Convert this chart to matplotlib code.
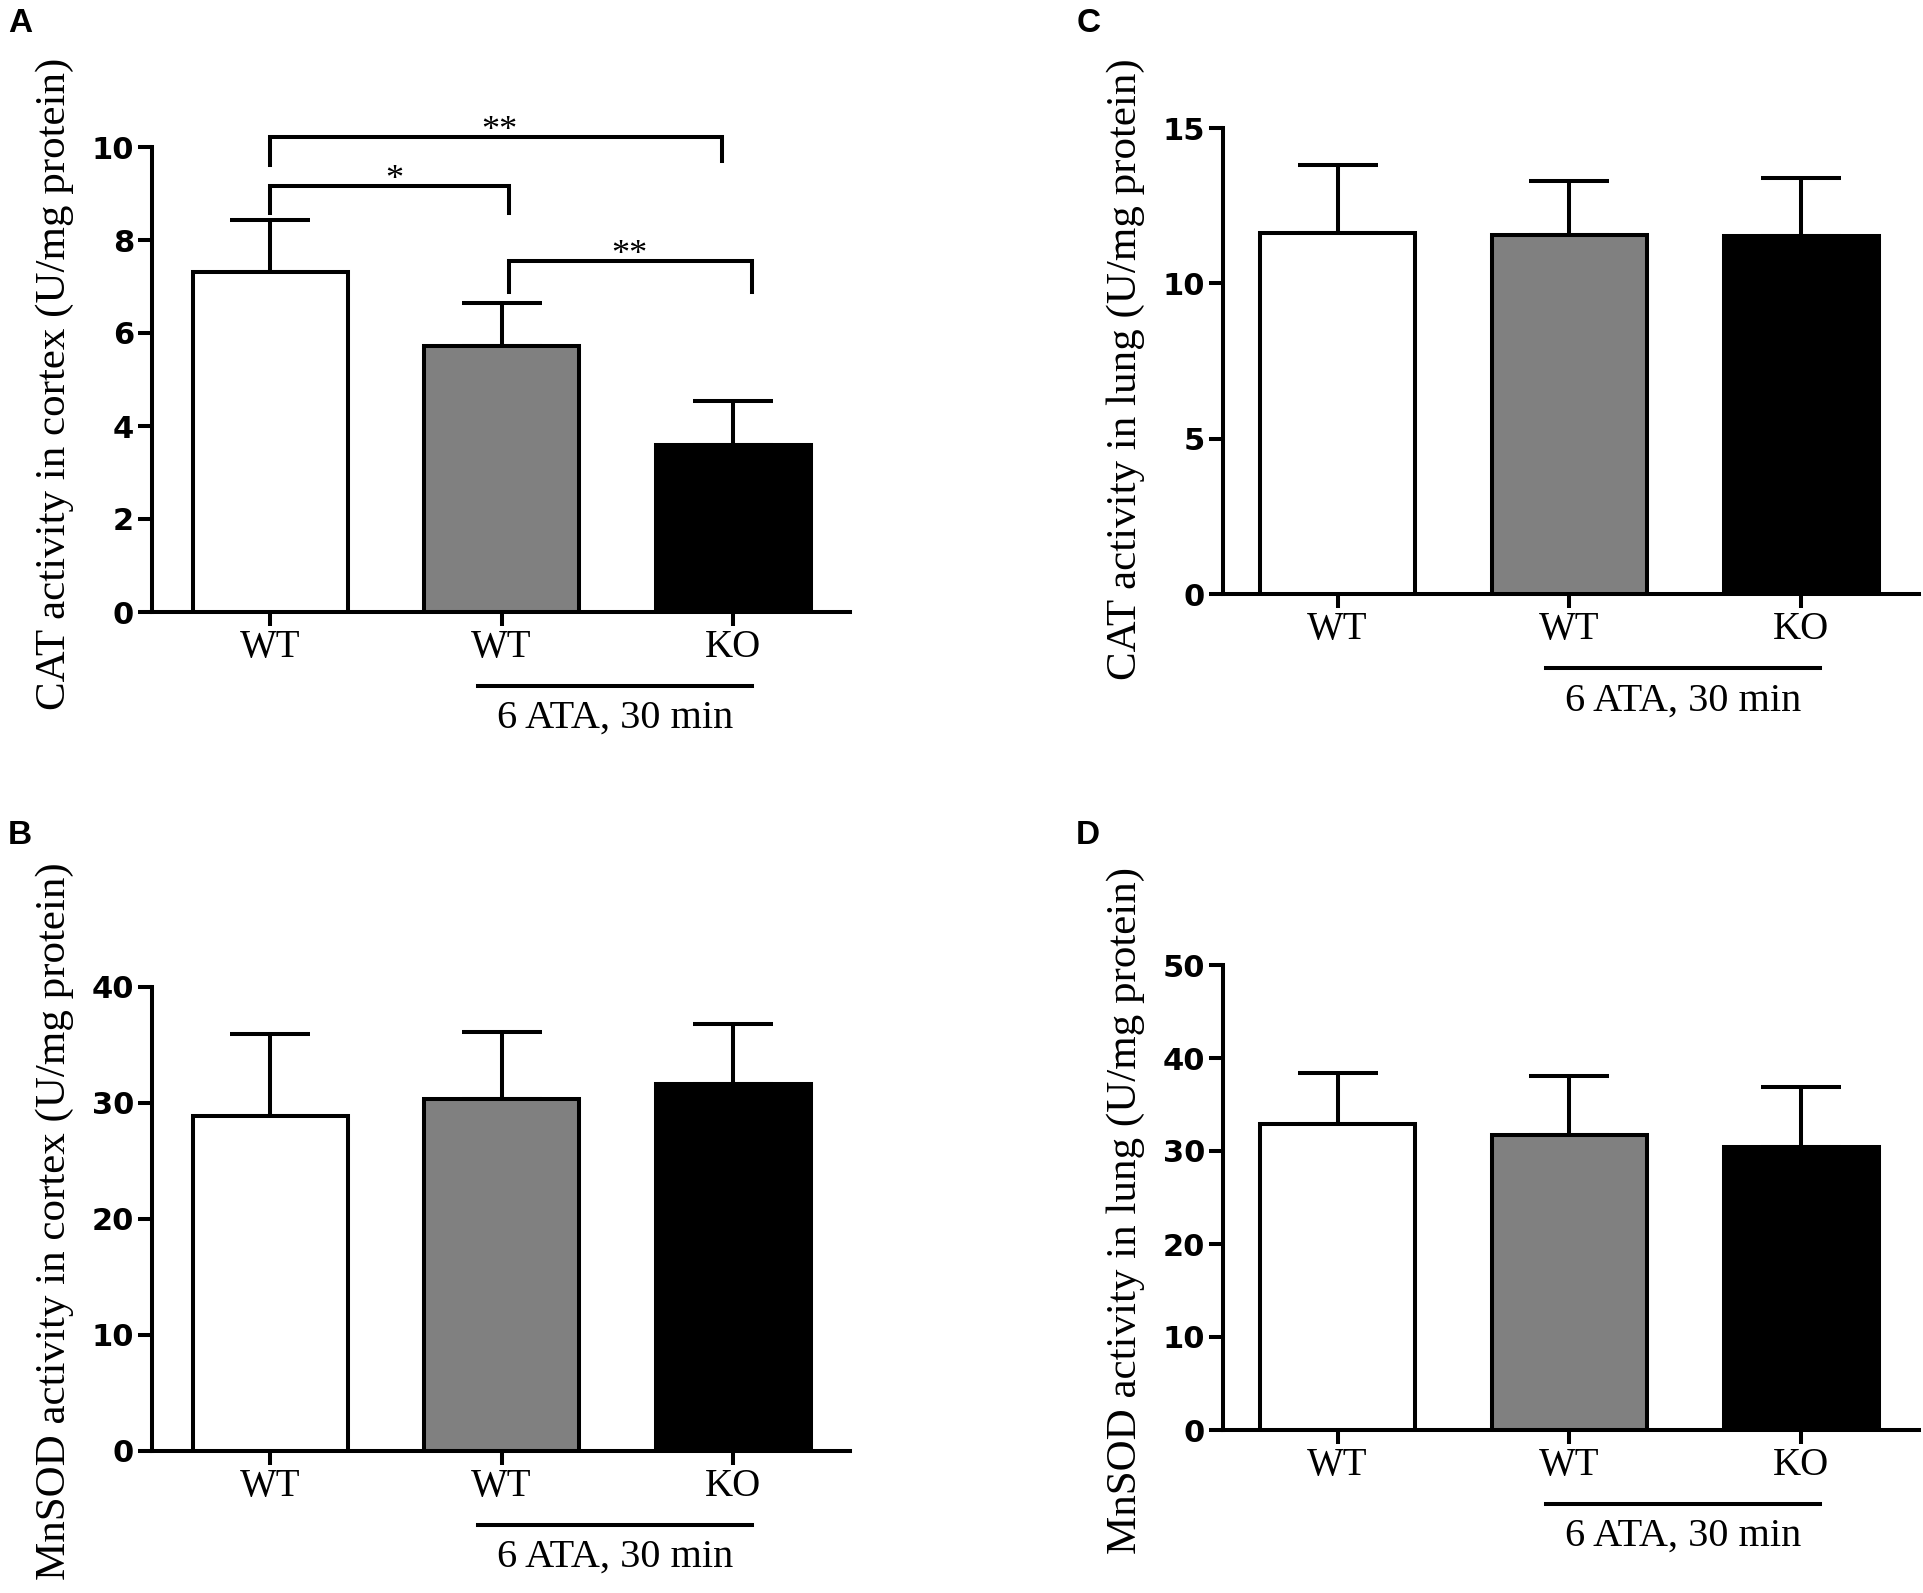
import matplotlib
matplotlib.use("Agg")
import matplotlib.pyplot as plt

W, H = 1924, 1593
fig = plt.figure(figsize=(W / 100, H / 100), dpi=100)

groups = ["WT", "WT", "KO"]
colors = ["white", "#808080", "black"]

cat_cortex = [7.31, 5.73, 3.60]
cat_cortex_err = [1.12, 0.91, 0.94]
mnsod_cortex = [28.87, 30.36, 31.68]
mnsod_cortex_err = [7.10, 5.78, 5.17]
cat_lung = [11.63, 11.55, 11.52]
cat_lung_err = [2.18, 1.75, 1.88]
mnsod_lung = [32.93, 31.67, 30.47]
mnsod_lung_err = [5.50, 6.40, 6.40]

yticks_A = [0, 2, 4, 6, 8, 10]
yticks_B = [0, 10, 20, 30, 40]
yticks_C = [0, 5, 10, 15]
yticks_D = [0, 10, 20, 30, 40, 50]

ylabel_A = "CAT activity in cortex (U/mg protein)"
ylabel_B = "MnSOD activity in cortex (U/mg protein)"
ylabel_C = "CAT activity in lung (U/mg protein)"
ylabel_D = "MnSOD activity in lung (U/mg protein)"
group_text = "6 ATA, 30 min"

# significance brackets for panel A: (x1, x2, y, leg_end_left, leg_end_right, label, label_x)
brackets_A = [
    (0.0, 1.95, 10.22, 9.62, 9.69, "**", 0.99),
    (0.0, 1.03, 9.16, 8.59, 8.59, "*", 0.535),
    (1.03, 2.08, 7.54, 6.88, 6.88, "**", 1.55),
]

SERIF = "Liberation Serif"
LW = 2.9


def px_axes(l, r, t, b):
    return fig.add_axes([l / W, 1 - b / H, (r - l) / W, (b - t) / H])


def draw_panel(ax, vals, errs, yticks, xlim, ylabel, lab_x, lab_top, letter, let_x, let_top):
    x = list(range(len(vals)))
    ax.bar(x, vals, width=0.67, color=colors, edgecolor="black", linewidth=LW, zorder=3)
    ax.errorbar(x, vals, yerr=[[0] * len(vals), errs], fmt="none", ecolor="black",
                elinewidth=LW, capsize=29, capthick=LW, zorder=2)
    ax.set_xlim(*xlim)
    ax.set_ylim(0, yticks[-1])
    ax.set_yticks(yticks)
    ax.set_xticks(x)
    ax.set_xticklabels(groups, fontfamily=SERIF, fontsize=28)
    for lab in ax.get_yticklabels():
        lab.set_fontfamily("DejaVu Sans")
        lab.set_fontweight("bold")
        lab.set_fontsize(22)
    ax.tick_params(axis="y", length=10, width=LW, pad=3)
    ax.tick_params(axis="x", length=10, width=LW, pad=2)
    for s in ["top", "right"]:
        ax.spines[s].set_visible(False)
    for s in ["left", "bottom"]:
        ax.spines[s].set_linewidth(LW)
    ax.spines["bottom"].set_capstyle("projecting")
    # group line and text
    ax.plot([0.90, 2.08], [-0.159, -0.159], color="black", lw=LW,
            transform=ax.get_xaxis_transform(), clip_on=False)
    ax.text(1.49, -0.229, group_text, fontfamily=SERIF, fontsize=29,
            ha="center", va="center", transform=ax.get_xaxis_transform())
    fig.text(lab_x / W, 1 - lab_top / H, ylabel, rotation=90, rotation_mode="anchor",
             ha="right", va="baseline", fontfamily=SERIF, fontsize=31)
    fig.text(let_x / W, 1 - let_top / H, letter, ha="left", va="top",
             fontfamily="Liberation Sans", fontweight="bold", fontsize=24)


axA = px_axes(152, 850, 147, 612)
draw_panel(axA, cat_cortex, cat_cortex_err, yticks_A, (-0.51, 2.505),
           ylabel_A, 65, 58, "A", 8, 8)
for x1, x2, y, l1, l2, lab, lx in brackets_A:
    axA.plot([x1, x1, x2, x2], [l1, y, y, l2], color="black", lw=LW,
             clip_on=False, solid_joinstyle="miter")
    axA.text(lx, y - 0.06, lab, fontfamily=SERIF, fontsize=26,
             ha="center", va="baseline")

axB = px_axes(152, 850, 987, 1451)
draw_panel(axB, mnsod_cortex, mnsod_cortex_err, yticks_B, (-0.51, 2.505),
           ylabel_B, 65, 862, "B", 8, 820)

axC = px_axes(1223, 1919, 128, 594)
draw_panel(axC, cat_lung, cat_lung_err, yticks_C, (-0.494, 2.508),
           ylabel_C, 1136, 58, "C", 1077, 8)

axD = px_axes(1223, 1919, 965, 1430)
draw_panel(axD, mnsod_lung, mnsod_lung_err, yticks_D, (-0.494, 2.508),
           ylabel_D, 1136, 867, "D", 1076, 820)

fig.savefig("out.png", dpi=100, facecolor="white")
